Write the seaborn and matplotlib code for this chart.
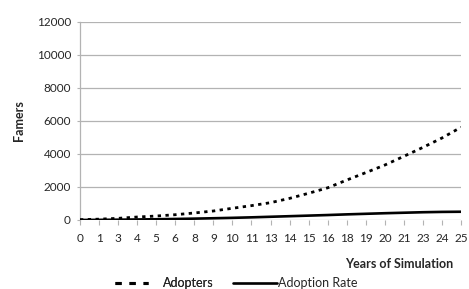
import matplotlib
matplotlib.use("Agg")
import matplotlib.pyplot as plt
from matplotlib.lines import Line2D
import seaborn as sns
import pandas as pd
import numpy as np

# Data
years = ['0', '1', '3', '4', '5', '6', '8', '9', '10', '11', '13',
         '14', '15', '16', '18', '19', '20', '21', '23', '24', '25']
adopters = [20, 50, 100, 180, 240, 320, 425, 545, 710, 870, 1050,
            1310, 1620, 1950, 2420, 2870, 3330, 3860, 4400, 4970, 5620]
adoption_rate = [0, 8, 18, 30, 45, 62, 82, 105, 130, 160, 195,
                 230, 265, 300, 340, 375, 410, 440, 470, 490, 500]

df = pd.DataFrame({'pos': np.arange(len(years)),
                   'Adopters': adopters,
                   'Adoption Rate': adoption_rate})

sns.set_style('white')
plt.rcParams['font.family'] = ['Lato', 'DejaVu Sans']

fig = plt.figure(figsize=(4.69, 2.89), dpi=100)
ax = fig.add_axes([0.1706, 0.2388, 0.8124, 0.6851])

grid_col = '#b3b3b3'
for v in range(0, 12001, 2000):
    ax.axhline(v, color=grid_col, lw=0.9, zorder=0)

sns.lineplot(data=df, x='pos', y='Adopters', ax=ax, color='black', lw=2.0,
             zorder=3)
ax.lines[-1].set_dashes((1.2, 1.6))
sns.lineplot(data=df, x='pos', y='Adoption Rate', ax=ax, color='black', lw=1.9,
             zorder=3)

ax.set_xlim(0, len(years) - 1)
ax.set_ylim(0, 12000)
ax.set_xticks(df['pos'])
ax.set_xticklabels(years)
ax.set_yticks(range(0, 12001, 2000))

for s in ['top', 'right', 'bottom']:
    ax.spines[s].set_visible(False)
ax.spines['left'].set_color(grid_col)
ax.spines['left'].set_linewidth(0.9)

ax.tick_params(axis='x', direction='out', length=3.5, width=0.8, color=grid_col,
               labelsize=8.5, pad=6, bottom=True)
ax.tick_params(axis='y', direction='out', length=2.5, width=0.8, color=grid_col,
               labelsize=8.5, pad=4, left=True)

ax.set_ylabel('Famers', fontsize=9, fontweight='bold', labelpad=8)
ax.set_xlabel('')
fig.text(453 / 469, 1 - 264 / 289, 'Years of Simulation', fontsize=9,
         fontweight='bold', ha='right', va='center')

# legend below the plot, two entries placed separately like the original
h1 = Line2D([], [], color='black', lw=2.2, dashes=(2.0, 2.6))
h2 = Line2D([], [], color='black', lw=1.9)
leg_y = 1 - 283 / 289
leg1 = fig.legend([h1], ['Adopters'], loc='center left',
                  bbox_to_anchor=(115 / 469, leg_y), frameon=False, fontsize=9,
                  handlelength=2.6, handletextpad=1.2, borderpad=0,
                  borderaxespad=0)
leg2 = fig.legend([h2], ['Adoption Rate'], loc='center left',
                  bbox_to_anchor=(233 / 469, leg_y), frameon=False, fontsize=9,
                  handlelength=3.5, handletextpad=0.1, borderpad=0,
                  borderaxespad=0)
fig.add_artist(leg1)

fig.savefig('out.png', dpi=100)
